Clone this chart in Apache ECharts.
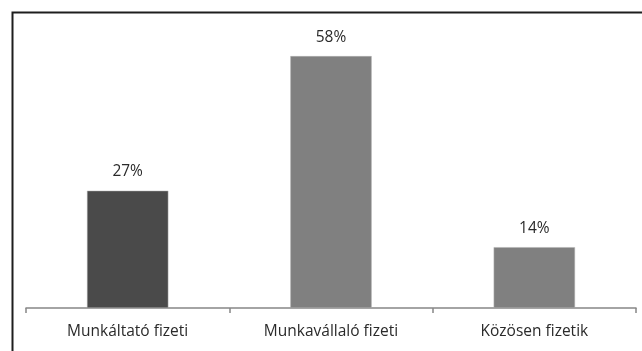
<!DOCTYPE html>
<html><head><meta charset="utf-8">
<style>html,body{margin:0;padding:0;background:#fff;}#c{width:642px;height:351px;}</style>
<script src="https://cdn.jsdelivr.net/npm/echarts@6/dist/echarts.min.js"></script>
</head><body><div id="c"></div>
<script>
var categories = ['Munkáltató fizeti', 'Munkavállaló fizeti', 'Közösen fizetik'];
var values = [27, 58, 14];
var barColors = ['#4a4a4a', '#808080', '#808080'];

var chart = echarts.init(document.getElementById('c'), null, {renderer: 'canvas'});
chart.setOption({
  animation: false,
  backgroundColor: '#fff',
  graphic: [{
    type: 'rect', left: 10, top: 10, z: 100,
    shape: {x: 0, y: 0, width: 700, height: 400},
    style: {fill: 'none', stroke: '#1e1e1e', lineWidth: 2}
  }],
  grid: {left: 26, right: 6, top: 4, bottom: 43},
  xAxis: {
    type: 'category', data: categories, boundaryGap: true,
    axisLine: {lineStyle: {color: '#868686', width: 1.5}},
    axisTick: {show: true, length: 5, lineStyle: {color: '#868686', width: 1.5}},
    axisLabel: {color: '#2a2a2a', fontFamily: 'Open Sans', fontSize: 15.5, margin: 16}
  },
  yAxis: {type: 'value', min: 0, max: 70, show: false, splitLine: {show: false}},
  series: [{
    type: 'bar', barWidth: '40%',
    data: values.map(function (v, i) { return {value: v, itemStyle: {color: barColors[i]}}; }),
    itemStyle: {borderColor: '#b0b0b0', borderWidth: 0.5},
    label: {show: true, position: 'top', distance: 11, formatter: '{c}%', color: '#2a2a2a', fontFamily: 'Open Sans', fontSize: 15.5}
  }]
});
</script></body></html>
